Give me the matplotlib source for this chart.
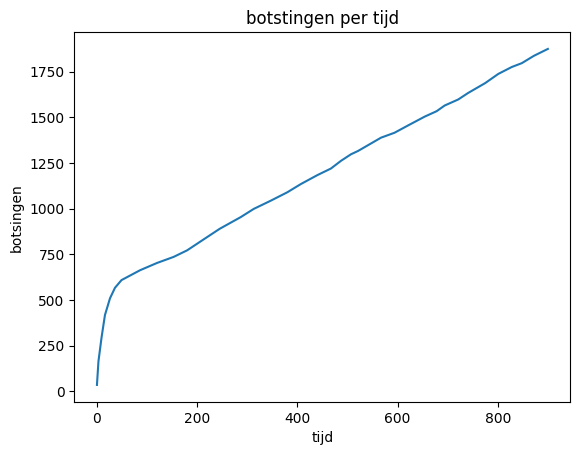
import matplotlib
matplotlib.use("Agg")
import matplotlib.pyplot as plt

# values
tijd = [0, 3, 9, 13, 16, 26, 36, 49, 86, 120, 153, 180, 213, 245, 287, 313,
        347, 380, 407, 440, 467, 487, 507, 521, 567, 594, 621, 654, 678, 694,
        721, 741, 775, 801, 828, 848, 872, 900]
botsingen = [35, 164, 291, 364, 418, 509, 567, 609, 663, 703, 736, 772, 832,
             890, 954, 999, 1044, 1090, 1135, 1184, 1220, 1262, 1298, 1316,
             1389, 1416, 1456, 1504, 1534, 1565, 1598, 1634, 1688, 1738, 1776,
             1797, 1837, 1875]

fig, ax = plt.subplots(figsize=(6.4, 4.8), dpi=100)
ax.plot(tijd, botsingen)
ax.set_title("botstingen per tijd")
ax.set_xlabel("tijd")
ax.set_ylabel("botsingen")

fig.savefig("out.png", bbox_inches="tight")
